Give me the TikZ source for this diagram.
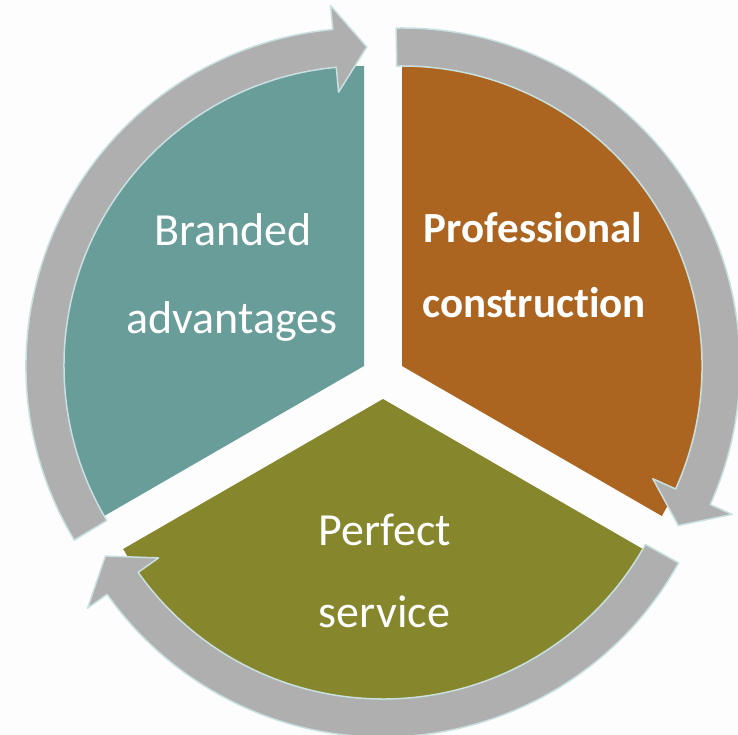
\documentclass[tikz,border=0pt]{standalone}
\usepackage{fontspec}
\setmainfont{Carlito}[Ligatures=NoCommon]
\usepackage{tikz}
\usetikzlibrary{calc}
\definecolor{bgc}{HTML}{FDFDFD}
\definecolor{tealc}{HTML}{699D9A}
\definecolor{orangec}{HTML}{AB6520}
\definecolor{olivec}{HTML}{86862C}
\definecolor{bandc}{HTML}{AFAFAF}
\definecolor{edgec}{HTML}{C9E0E0}
\def\cyclearrow[#1](#2)(#3:#4){\draw[#1, shift={(#2)}] (#3:338pt) arc[start angle=#3, end angle={#4+5.8}, radius=338pt] -- ({#4+5.8}:362pt) -- (#4:319pt) -- ({#4+5.8}:275pt) -- ({#4+5.8}:300pt) arc[start angle={#4+5.8}, end angle=#3, radius=300pt] -- cycle;}
\newcommand\lblsize{\fontsize{46}{50}\selectfont}
\newcommand\boldsize{\fontsize{43}{50}\selectfont\bfseries}

\begin{document}
\begin{tikzpicture}[x=1pt, y=1pt,
		band/.style={fill=bandc, draw=edgec, line width=1.5pt, line join=round},
		lbl/.style={text=white, inner sep=0pt, anchor=base, font=\lblsize}]
		%%%%% START %%%%%
		
		\fill[bgc] (-383, -358) rectangle (355, 377);
		\useasboundingbox (-383, -358) rectangle (355, 377);
		
		\fill[tealc, shift={(-19, 11)}] (0, 0) -- (90:300pt) arc[start angle=90, end angle=210, radius=300pt] -- cycle;
		\fill[orangec, shift={(19, 11)}] (0, 0) -- (-30:300pt) arc[start angle=-30, end angle=90, radius=300pt] -- cycle;
		\fill[olivec, shift={(0, -22)}] (0, 0) -- (210:300pt) arc[start angle=210, end angle=330, radius=300pt] -- cycle;
		
		\cyclearrow[band](-19, 11)(211:89.5);
		\cyclearrow[band](19, 11)(91:-30);
		\cyclearrow[band](0, -22)(331:209.5);
		
		\node[lbl] (brand1) at (-150, 131) {Branded};
		\node[lbl] (brand2) at (-151, 43) {advantages};
		\node[lbl, font=\boldsize] (prof1) at (150, 134) {Professional};
		\node[lbl, font=\boldsize] (prof2) at (151, 59) {construction};
		\node[lbl] (serv1) at (2, -168) {Perfect};
		\node[lbl] (serv2) at (1.5, -250) {service};
		
		%%%%% END %%%%%
	\end{tikzpicture}
\end{document}
